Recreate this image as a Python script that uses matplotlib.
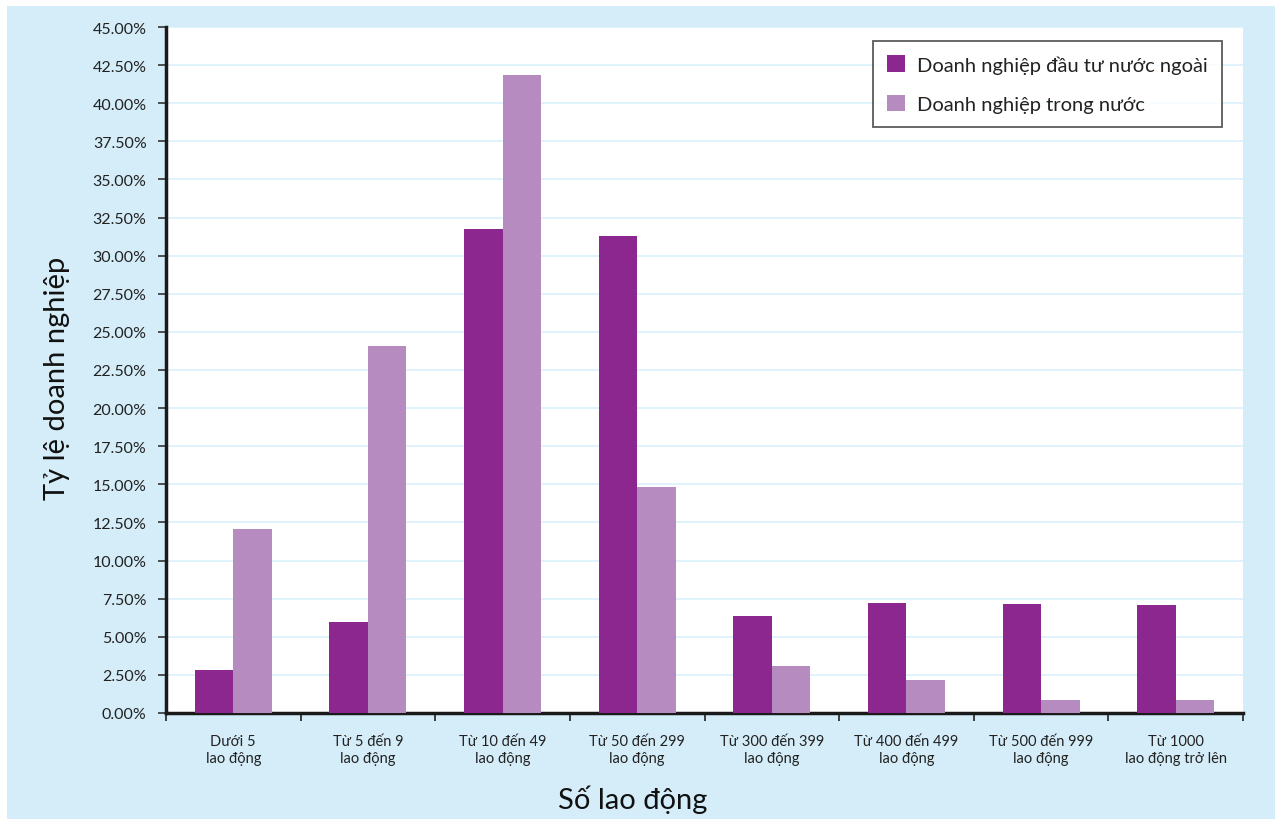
import matplotlib
matplotlib.use("Agg")
import matplotlib.pyplot as plt
from matplotlib.patches import Rectangle
from matplotlib.ticker import FuncFormatter, MultipleLocator
import numpy as np

plt.rcParams['font.family'] = ['Lato', 'DejaVu Sans']

categories = [
    "Dưới 5\nlao động",
    "Từ 5 đến 9\nlao động",
    "Từ 10 đến 49\nlao động",
    "Từ 50 đến 299\nlao động",
    "Từ 300 đến 399\nlao động",
    "Từ 400 đến 499\nlao động",
    "Từ 500 đến 999\nlao động",
    "Từ 1000\nlao động trở lên",
]
foreign = [2.8, 6.0, 31.75, 31.3, 6.35, 7.2, 7.15, 7.1]
domestic = [12.1, 24.05, 41.85, 14.85, 3.1, 2.15, 0.85, 0.85]
series_names = ["Doanh nghiệp đầu tư nước ngoài", "Doanh nghiệp trong nước"]

dark = "#8B278F"
light = "#B68BC0"
bg = "#D4EDF9"
grid = "#DDF1FB"

W, H = 1275, 820
fig = plt.figure(figsize=(W / 100, H / 100), dpi=100)
fig.patch.set_facecolor("white")
fig.patches.append(Rectangle((7 / W, 0), 1 - 7 / W, 1 - 7 / H,
                             transform=fig.transFigure, facecolor=bg,
                             edgecolor="none", zorder=-10))

left, right, top, bottom = 166, 1243, 28, 714
ax = fig.add_axes([left / W, 1 - bottom / H, (right - left) / W, (bottom - top) / H])
ax.set_facecolor("white")

x = np.arange(len(categories))
bw = 0.286
ax.bar(x - bw / 2, foreign, bw, color=dark, label=series_names[0], zorder=3)
ax.bar(x + bw / 2, domestic, bw, color=light, label=series_names[1], zorder=3)

ax.set_xlim(-0.5, len(categories) - 0.5)
ax.set_ylim(0, 45)
ax.yaxis.set_major_locator(MultipleLocator(2.5))
ax.yaxis.set_major_formatter(FuncFormatter(lambda v, p: f"{v:.2f}%"))
ax.grid(axis="y", color=grid, linewidth=1.3, zorder=0)

ax.set_xticks(x)
ax.set_xticklabels(categories, fontsize=10.5, color="#222222", linespacing=1.3)
ax.set_xticks(np.arange(-0.5, len(categories)), minor=True)
ax.tick_params(axis="x", which="major", length=0, pad=15)
ax.tick_params(axis="x", which="minor", length=6, width=1.2, color="#222222")
ax.tick_params(axis="y", length=6, width=1.2, color="#333333", labelsize=11.5,
               labelcolor="#222222", pad=8)

for s in ["top", "right"]:
    ax.spines[s].set_visible(False)
for s in ["left", "bottom"]:
    ax.spines[s].set_linewidth(2.5)
    ax.spines[s].set_color("#1a1a1a")

fig.text(57 / W, 1 - 378 / H, "Tỷ lệ doanh nghiệp", fontsize=21, color="#111111",
         rotation=90, ha="center", va="center")
fig.text(633 / W, 1 - 800 / H, "Số lao động", fontsize=21, color="#111111",
         ha="center", va="center")

leg = ax.legend(loc="upper right",
                bbox_to_anchor=((1222 - left) / (right - left), 1 - (42 - top) / (bottom - top)),
                borderaxespad=0,
                fontsize=14.5, frameon=True, fancybox=False, edgecolor="#333333",
                handlelength=0.9, handleheight=0.9, borderpad=0.7, labelspacing=1.05,
                handletextpad=0.6)
leg.get_frame().set_linewidth(1.3)
for t in leg.get_texts():
    t.set_color("#222222")

fig.savefig("out.png", dpi=100, facecolor=fig.get_facecolor())
